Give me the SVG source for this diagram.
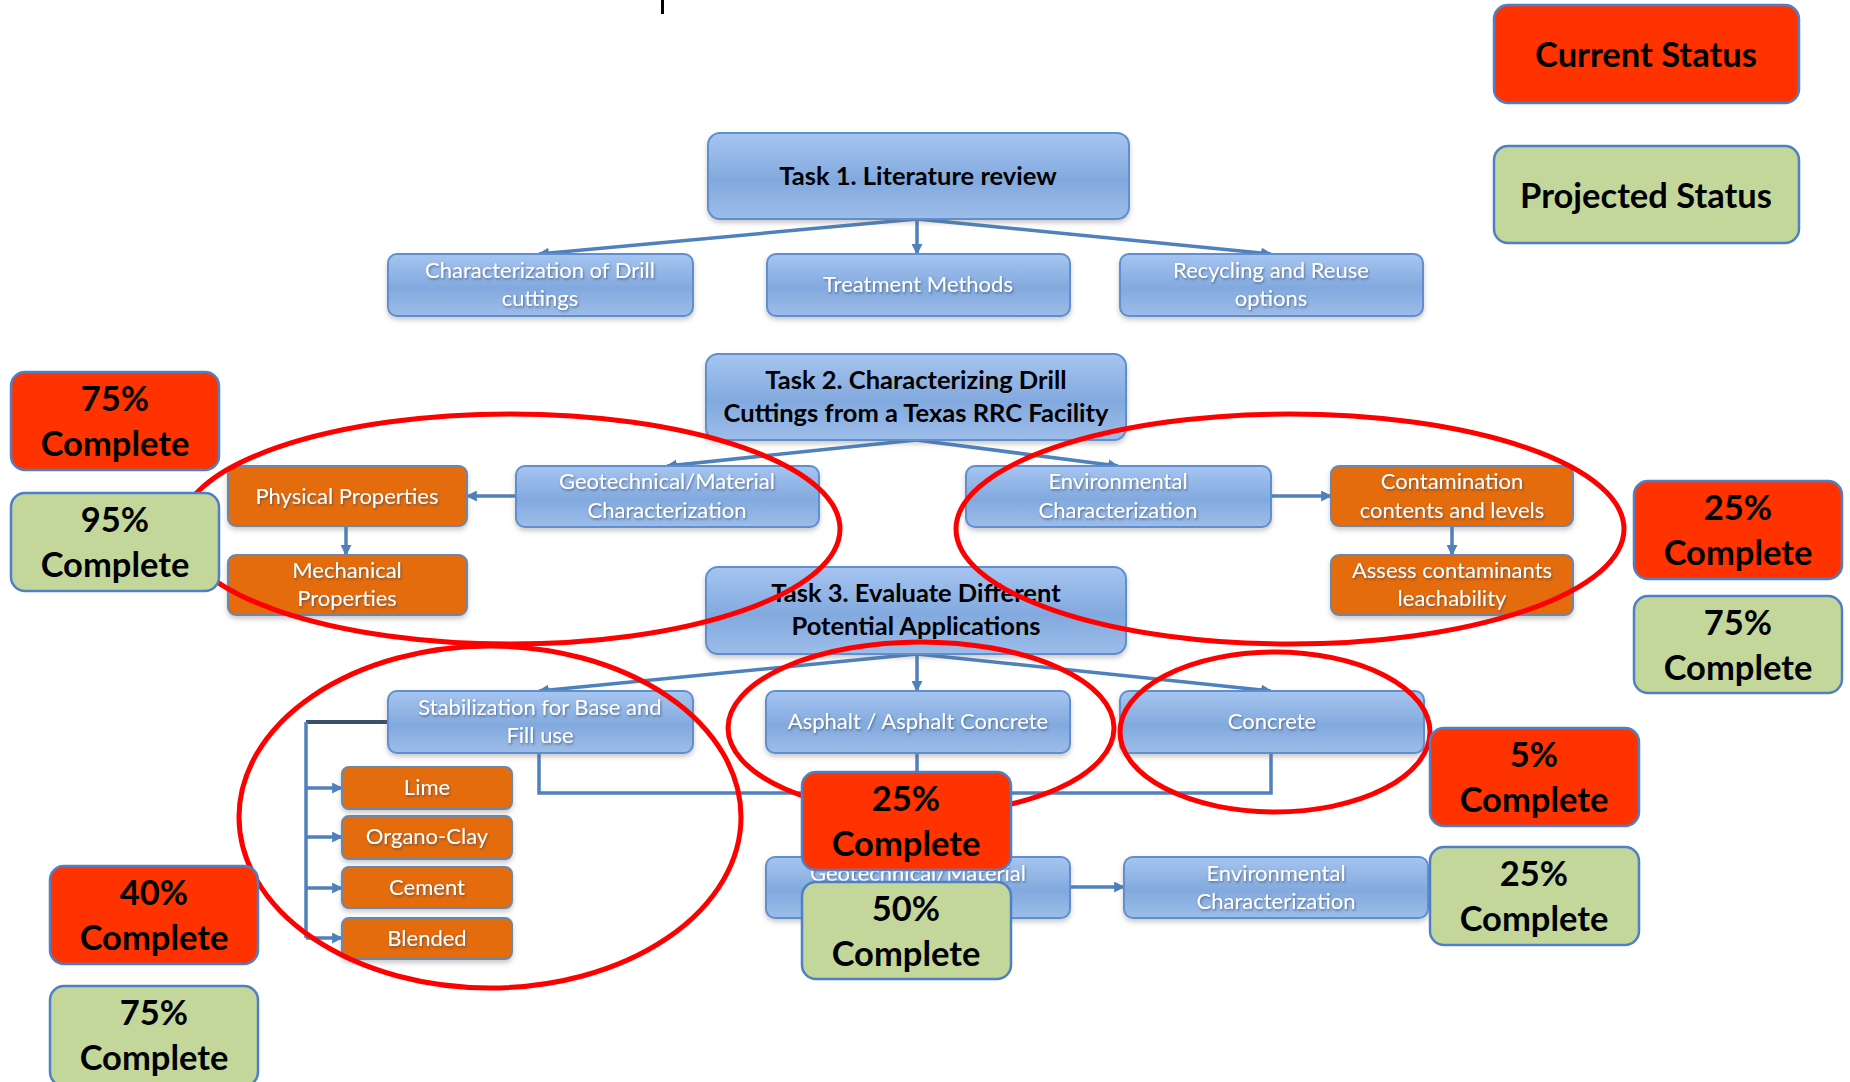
<svg xmlns="http://www.w3.org/2000/svg" width="1850" height="1082" viewBox="0 0 1850 1082">
<style>
.bt{font-family:Lato,"Open Sans","Liberation Sans",sans-serif;font-size:22px;fill:#fff;text-anchor:middle;filter:url(#ts)}
.tt{font-family:Lato,"Open Sans","Liberation Sans",sans-serif;font-size:25.5px;font-weight:bold;fill:#000;text-anchor:middle}
.pt{font-family:Lato,"Open Sans","Liberation Sans",sans-serif;font-size:34.5px;font-weight:bold;fill:#000;text-anchor:middle}
.st{font-family:Lato,"Open Sans","Liberation Sans",sans-serif;font-size:34.5px;font-weight:bold;fill:#000;text-anchor:middle}
.blue{fill:url(#bg);stroke:#5F8FCF;stroke-width:2;filter:url(#sh)}
.task{fill:url(#bg);stroke:#5F8FCF;stroke-width:2;filter:url(#sh)}
.orange{fill:#E46C0A;stroke:#6E86A8;stroke-width:2;filter:url(#sh)}
.red{fill:#FF3300;stroke:#4F7FC4;stroke-width:2.5}
.green{fill:#C4D79B;stroke:#4F7FC4;stroke-width:2.5}
.c{stroke:#4F81BD;stroke-width:3.5;fill:none}
.ell{fill:none;stroke:#FF0000;stroke-width:5}
</style>
<defs>
<linearGradient id="bg" x1="0" y1="0" x2="0" y2="1">
<stop offset="0" stop-color="#A6C5F0"/>
<stop offset="0.55" stop-color="#82A9DE"/>
<stop offset="1" stop-color="#9DBDE9"/>
</linearGradient>
<filter id="ts" x="-10%" y="-30%" width="120%" height="160%">
<feDropShadow dx="1" dy="1.5" stdDeviation="0.8" flood-color="#2a3a55" flood-opacity="0.6"/>
</filter>
<filter id="sh" x="-5%" y="-10%" width="110%" height="130%">
<feDropShadow dx="0" dy="3" stdDeviation="2.5" flood-color="#666" flood-opacity="0.35"/>
</filter>
<marker id="ah" viewBox="0 0 10 10" refX="9" refY="5" markerWidth="11" markerHeight="11" markerUnits="userSpaceOnUse" orient="auto">
<path d="M0,0 L10,5 L0,10 z" fill="#4F81BD"/>
</marker>
</defs>
<rect width="1850" height="1082" fill="#fff"/>
<rect x="661" y="0" width="3" height="14" fill="#000"/>

<g id="connectors">
<line class="c" x1="917" y1="219" x2="539" y2="254" marker-end="url(#ah)"/>
<line class="c" x1="917" y1="219" x2="917" y2="254" marker-end="url(#ah)"/>
<line class="c" x1="917" y1="219" x2="1271" y2="254" marker-end="url(#ah)"/>
<line class="c" x1="916" y1="440" x2="667" y2="466" marker-end="url(#ah)"/>
<line class="c" x1="916" y1="440" x2="1118" y2="466" marker-end="url(#ah)"/>
<line class="c" x1="516" y1="496" x2="467" y2="496" marker-end="url(#ah)"/>
<line class="c" x1="346" y1="526" x2="346" y2="555" marker-end="url(#ah)"/>
<line class="c" x1="1271" y1="496" x2="1331" y2="496" marker-end="url(#ah)"/>
<line class="c" x1="1452" y1="526" x2="1452" y2="555" marker-end="url(#ah)"/>
<line class="c" x1="917" y1="654" x2="539" y2="691" marker-end="url(#ah)"/>
<line class="c" x1="917" y1="654" x2="917" y2="691" marker-end="url(#ah)"/>
<line class="c" x1="917" y1="654" x2="1271" y2="691" marker-end="url(#ah)"/>
<path d="M388,722 H306" stroke="#3C4F6A" stroke-width="4" fill="none"/>
<path class="c" d="M306,722 V938"/>
<line class="c" x1="306" y1="788" x2="342" y2="788" marker-end="url(#ah)"/>
<line class="c" x1="306" y1="837" x2="342" y2="837" marker-end="url(#ah)"/>
<line class="c" x1="306" y1="888" x2="342" y2="888" marker-end="url(#ah)"/>
<line class="c" x1="306" y1="938" x2="342" y2="938" marker-end="url(#ah)"/>
<path class="c" d="M539,753 V793 H1271 V753"/>
<path class="c" d="M917,753 V857"/>
<line class="c" x1="1070" y1="887" x2="1124" y2="887" marker-end="url(#ah)"/>
</g>

<g id="task1"><rect class="task" x="708" y="133" width="421" height="86" rx="12"/><text class="tt" x="918" y="185">Task 1. Literature review</text></g>
<g id="lit-char"><rect class="blue" x="388" y="254" width="305" height="62" rx="9"/><text class="bt" x="540" y="278">Characterization of Drill</text><text class="bt" x="540" y="306">cuttings</text></g>
<g id="lit-treat"><rect class="blue" x="767" y="254" width="303" height="62" rx="9"/><text class="bt" x="918" y="292">Treatment Methods</text></g>
<g id="lit-recycle"><rect class="blue" x="1120" y="254" width="303" height="62" rx="9"/><text class="bt" x="1271" y="278">Recycling and Reuse</text><text class="bt" x="1271" y="306">options</text></g>

<g id="task2"><rect class="task" x="706" y="354" width="420" height="86" rx="12"/><text class="tt" x="916" y="389">Task 2. Characterizing Drill</text><text class="tt" x="916" y="422">Cuttings from a Texas RRC Facility</text></g>
<g id="t2-geo"><rect class="blue" x="516" y="466" width="303" height="61" rx="9"/><text class="bt" x="667" y="489">Geotechnical/Material</text><text class="bt" x="667" y="518">Characterization</text></g>
<g id="t2-phys"><rect class="orange" x="228" y="466" width="239" height="60" rx="8"/><text class="bt" x="347" y="504">Physical Properties</text></g>
<g id="t2-mech"><rect class="orange" x="228" y="555" width="239" height="60" rx="8"/><text class="bt" x="347" y="578">Mechanical</text><text class="bt" x="347" y="606">Properties</text></g>
<g id="t2-env"><rect class="blue" x="966" y="466" width="305" height="61" rx="9"/><text class="bt" x="1118" y="489">Environmental</text><text class="bt" x="1118" y="518">Characterization</text></g>
<g id="t2-contam"><rect class="orange" x="1331" y="466" width="242" height="60" rx="8"/><text class="bt" x="1452" y="489">Contamination</text><text class="bt" x="1452" y="518">contents and levels</text></g>
<g id="t2-leach"><rect class="orange" x="1331" y="555" width="242" height="60" rx="8"/><text class="bt" x="1452" y="578">Assess contaminants</text><text class="bt" x="1452" y="606">leachability</text></g>

<g id="task3"><rect class="task" x="706" y="567" width="420" height="87" rx="12"/><text class="tt" x="916" y="602">Task 3. Evaluate Different</text><text class="tt" x="916" y="635">Potential Applications</text></g>
<g id="t3-stab"><rect class="blue" x="388" y="691" width="305" height="62" rx="9"/><text class="bt" x="540" y="715">Stabilization for Base and</text><text class="bt" x="540" y="743">Fill use</text></g>
<g id="t3-asph"><rect class="blue" x="766" y="691" width="304" height="62" rx="9"/><text class="bt" x="918" y="729">Asphalt / Asphalt Concrete</text></g>
<g id="t3-conc"><rect class="blue" x="1120" y="691" width="304" height="62" rx="9"/><text class="bt" x="1272" y="729">Concrete</text></g>
<g id="t3-lime"><rect class="orange" x="342" y="767" width="170" height="42" rx="7"/><text class="bt" x="427" y="795">Lime</text></g>
<g id="t3-organo"><rect class="orange" x="342" y="816" width="170" height="43" rx="7"/><text class="bt" x="427" y="844">Organo-Clay</text></g>
<g id="t3-cement"><rect class="orange" x="342" y="867" width="170" height="41" rx="7"/><text class="bt" x="427" y="895">Cement</text></g>
<g id="t3-blended"><rect class="orange" x="342" y="918" width="170" height="41" rx="7"/><text class="bt" x="427" y="946">Blended</text></g>
<g id="t3-geo"><rect class="blue" x="766" y="857" width="304" height="61" rx="9"/><text class="bt" x="918" y="881">Geotechnical/Material</text></g>
<g id="t3-env"><rect class="blue" x="1124" y="857" width="304" height="61" rx="9"/><text class="bt" x="1276" y="881">Environmental</text><text class="bt" x="1276" y="909">Characterization</text></g>

<g id="highlights">
<ellipse class="ell" cx="510" cy="529" rx="330" ry="115"/>
<ellipse class="ell" cx="1290" cy="529" rx="334" ry="115"/>
<ellipse class="ell" cx="490" cy="817" rx="251" ry="171"/>
<ellipse class="ell" cx="921" cy="728" rx="193" ry="86"/>
<ellipse class="ell" cx="1275" cy="732" rx="155" ry="80"/>
</g>

<g id="legend-current"><rect class="red" x="1494" y="5" width="305" height="98" rx="14"/><text class="st" x="1646" y="67">Current Status</text></g>
<g id="legend-projected"><rect class="green" x="1494" y="146" width="305" height="97" rx="14"/><text class="st" x="1646" y="208">Projected Status</text></g>

<g id="s-t2l-cur"><rect class="red" x="11" y="372" width="208" height="98" rx="14"/><text class="pt" x="115" y="411">75%</text><text class="pt" x="115" y="456">Complete</text></g>
<g id="s-t2l-proj"><rect class="green" x="11" y="493" width="208" height="98" rx="14"/><text class="pt" x="115" y="532">95%</text><text class="pt" x="115" y="577">Complete</text></g>
<g id="s-t2r-cur"><rect class="red" x="1634" y="481" width="208" height="98" rx="14"/><text class="pt" x="1738" y="520">25%</text><text class="pt" x="1738" y="565">Complete</text></g>
<g id="s-t2r-proj"><rect class="green" x="1634" y="596" width="208" height="97" rx="14"/><text class="pt" x="1738" y="635">75%</text><text class="pt" x="1738" y="680">Complete</text></g>
<g id="s-conc-cur"><rect class="red" x="1430" y="728" width="209" height="98" rx="14"/><text class="pt" x="1534" y="767">5%</text><text class="pt" x="1534" y="812">Complete</text></g>
<g id="s-conc-proj"><rect class="green" x="1430" y="847" width="209" height="98" rx="14"/><text class="pt" x="1534" y="886">25%</text><text class="pt" x="1534" y="931">Complete</text></g>
<g id="s-asph-cur"><rect class="red" x="802" y="772" width="209" height="98" rx="14"/><text class="pt" x="906" y="811">25%</text><text class="pt" x="906" y="856">Complete</text></g>
<g id="s-asph-proj"><rect class="green" x="802" y="882" width="209" height="97" rx="14"/><text class="pt" x="906" y="921">50%</text><text class="pt" x="906" y="966">Complete</text></g>
<g id="s-stab-cur"><rect class="red" x="50" y="866" width="208" height="98" rx="14"/><text class="pt" x="154" y="905">40%</text><text class="pt" x="154" y="950">Complete</text></g>
<g id="s-stab-proj"><rect class="green" x="50" y="986" width="208" height="100" rx="14"/><text class="pt" x="154" y="1025">75%</text><text class="pt" x="154" y="1070">Complete</text></g>
</svg>
